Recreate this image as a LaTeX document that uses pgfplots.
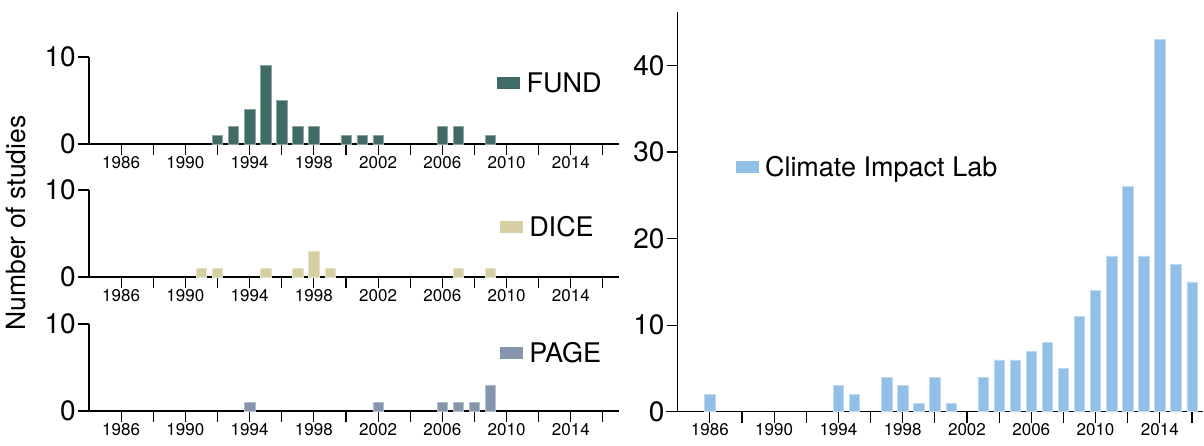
\documentclass[border=0pt]{standalone}
\usepackage{fontspec}
\setmainfont{TeX Gyre Heros}
\usepackage{pgfplots}
\pgfplotsset{compat=1.18}
\definecolor{fund}{HTML}{416B66}
\definecolor{dice}{HTML}{D6CFA4}
\definecolor{page}{HTML}{8596AC}
\definecolor{cil}{HTML}{92BFE6}
\pgfplotsset{
  common/.style={
    scale only axis,
    axis x line*=bottom, axis y line*=left,
    axis line style={line width=1.1pt, black},
    every tick/.style={line width=1.1pt, black},
    tick align=outside, major tick length=11pt,
    xtick={1986,1988,...,2016},
    xticklabels={1986,,1990,,1994,,1998,,2002,,2006,,2010,,2014,},
    x tick label style={font=\fontsize{17}{18}\selectfont, inner sep=1pt},
    y tick label style={font=\fontsize{28}{30}\selectfont, inner sep=2pt},
    /pgf/number format/assume math mode=true,
    ybar, bar width=10.3pt,
    legend style={draw=none, fill=none, inner sep=0pt, outer sep=0pt, anchor=west,
      font=\fontsize{27}{30}\selectfont, nodes={inner sep=2pt},
      /tikz/every odd column/.append style={column sep=5pt}},
    clip=false,
  },
  panel/.style={common, width=530pt, height=87pt,
    xmin=1984, xmax=2017, ymin=0, ymax=10, ytick={0,10}},
}
\begin{document}
\begin{tikzpicture}
\useasboundingbox (0,0) rectangle (1204pt,445pt);
% FUND
\begin{axis}[panel, at={(89pt,301pt)}, anchor=south west,
  legend style={at={(0.770,0.70)}}]
\addplot[fill=fund, draw=fund!60!white, line width=0.5pt,
  legend image code/.code={\fill[fund] (0pt,-5.5pt) rectangle (22pt,5.5pt);}]
  coordinates {(1992,1) (1993,2) (1994,4) (1995,9) (1996,5) (1997,2) (1998,2)
  (2000,1) (2001,1) (2002,1) (2006,2) (2007,2) (2009,1)};
\addlegendentry{FUND}
\draw[line width=1.1pt] (axis cs:1983.3,0) -- (axis cs:1984,0);
\end{axis}
% DICE
\begin{axis}[panel, at={(89pt,168pt)}, anchor=south west,
  legend style={at={(0.775,0.575)}}]
\addplot[fill=dice, draw=dice!60!white, line width=0.5pt,
  legend image code/.code={\fill[dice] (0pt,-5.5pt) rectangle (22pt,5.5pt);}]
  coordinates {(1991,1) (1992,1) (1995,1) (1997,1) (1998,3) (1999,1) (2007,1) (2009,1)};
\addlegendentry{DICE}
\draw[line width=1.1pt] (axis cs:1983.3,0) -- (axis cs:1984,0);
\end{axis}
% PAGE
\begin{axis}[panel, at={(89pt,34pt)}, anchor=south west,
  legend style={at={(0.775,0.667)}}]
\addplot[fill=page, draw=page!60!white, line width=0.5pt,
  legend image code/.code={\fill[page] (0pt,-5.5pt) rectangle (22pt,5.5pt);}]
  coordinates {(1994,1) (2002,1) (2006,1) (2007,1) (2008,1) (2009,3)};
\addlegendentry{PAGE}
\draw[line width=1.1pt] (axis cs:1983.3,0) -- (axis cs:1984,0);
\end{axis}
% Climate Impact Lab
\begin{axis}[common, width=525.5pt, height=400pt, at={(677.7pt,33.3pt)}, anchor=south west,
  xmin=1984, xmax=2016.7, ymin=0, ymax=46.2, ytick={0,10,...,40},
  legend style={at={(0.110,0.612)}}]
\addplot[fill=cil, draw=cil!60!white, line width=0.5pt,
  legend image code/.code={\fill[cil] (0pt,-5.5pt) rectangle (22pt,5.5pt);}]
  coordinates {(1986,2) (1994,3) (1995,2) (1997,4) (1998,3) (1999,1) (2000,4) (2001,1)
  (2003,4) (2004,6) (2005,6) (2006,7) (2007,8) (2008,5) (2009,11) (2010,14)
  (2011,18) (2012,26) (2013,18) (2014,43) (2015,17) (2016,15)};
\addlegendentry{Climate Impact Lab}
\draw[line width=1.1pt] (axis cs:1983.3,0) -- (axis cs:1984,0);
\end{axis}
\node[rotate=90, font=\fontsize{26.5}{28}\selectfont] at (16pt,222pt) {Number of studies};
\end{tikzpicture}
\end{document}
